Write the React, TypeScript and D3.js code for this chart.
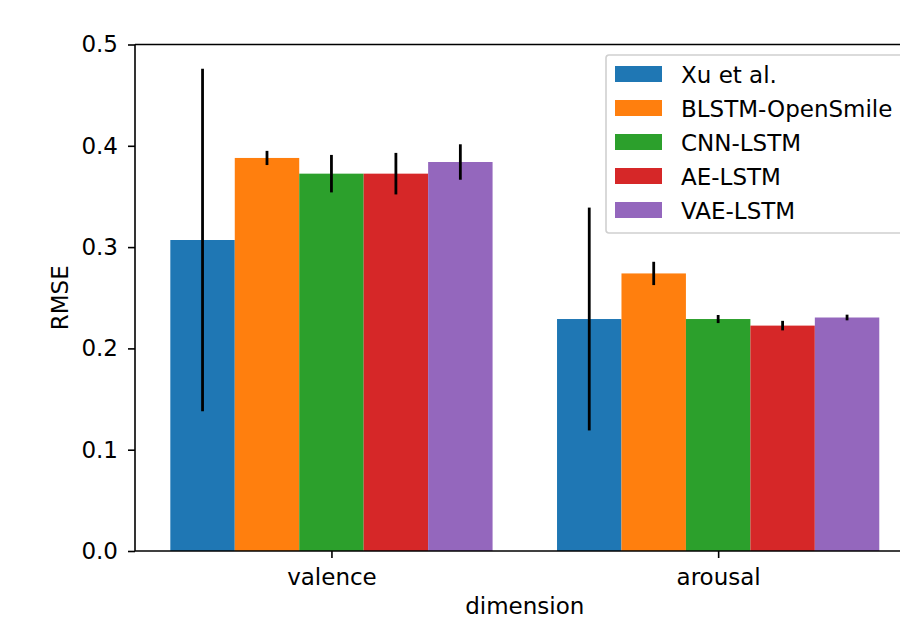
import React, { useEffect, useRef } from 'react';
import * as d3 from 'd3';

const dimensions = ['valence', 'arousal'];
const models = ['Xu et al.', 'BLSTM-OpenSmile', 'CNN-LSTM', 'AE-LSTM', 'VAE-LSTM'];
const colors = ['#1f77b4', '#ff7f0e', '#2ca02c', '#d62728', '#9467bd'];
// rmse per model, [valence, arousal]
const rmse = [
  [0.307, 0.229],
  [0.388, 0.274],
  [0.3725, 0.229],
  [0.3725, 0.2225],
  [0.384, 0.2305],
];
const errs = [
  [0.169, 0.11],
  [0.007, 0.0115],
  [0.0185, 0.004],
  [0.0205, 0.0047],
  [0.0175, 0.0028],
];
const yTicks = [0, 0.1, 0.2, 0.3, 0.4, 0.5];

const W = 900, H = 618;
const FONT = 'DejaVu Sans, sans-serif';
const FS = '23px';

export default function App() {
  const ref = useRef<SVGSVGElement>(null);

  useEffect(() => {
    document.body.style.margin = '0';
    const svg = d3.select(ref.current);
    svg.selectAll('*').remove();

    const left = 135, top = 44.5, bottom = 551, right = 914.6;
    const x = d3.scaleLinear().domain([-0.508, 1.508]).range([left, right]);
    const y = d3.scaleLinear().domain([0, 0.5]).range([bottom, top]);
    const bw = 1 / 6;

    const bars = svg.append('g');
    models.forEach((m, i) => {
      dimensions.forEach((d, j) => {
        const cx = j + (i - 2) * bw;
        bars.append('rect')
          .attr('x', x(cx - bw / 2)).attr('width', x(cx + bw / 2) - x(cx - bw / 2))
          .attr('y', y(rmse[i][j])).attr('height', y(0) - y(rmse[i][j]))
          .attr('fill', colors[i]);
      });
    });
    models.forEach((m, i) => {
      dimensions.forEach((d, j) => {
        const cx = j + (i - 2) * bw;
        bars.append('line')
          .attr('x1', x(cx)).attr('x2', x(cx))
          .attr('y1', y(rmse[i][j] - errs[i][j])).attr('y2', y(rmse[i][j] + errs[i][j]))
          .attr('stroke', '#000').attr('stroke-width', 2.8);
      });
    });

    // spines
    const sp = svg.append('g').attr('stroke', '#000').attr('stroke-width', 1.6).attr('fill', 'none');
    sp.append('line').attr('x1', left).attr('x2', left).attr('y1', top).attr('y2', bottom);
    sp.append('line').attr('x1', left).attr('x2', W).attr('y1', bottom).attr('y2', bottom);
    sp.append('line').attr('x1', left).attr('x2', W).attr('y1', top).attr('y2', top);

    const yAxis = svg.append('g').attr('transform', `translate(${left},0)`)
      .call(d3.axisLeft(y).tickValues(yTicks).tickFormat(d3.format('.1f')).tickSize(7).tickPadding(10));
    const xAxis = svg.append('g').attr('transform', `translate(0,${bottom})`)
      .call(d3.axisBottom(x).tickValues([0, 1]).tickFormat((d, k) => dimensions[k]).tickSize(7).tickPadding(11));
    [yAxis, xAxis].forEach(a => {
      a.select('.domain').remove();
      a.selectAll('line').attr('stroke', '#000').attr('stroke-width', 1.6);
      a.selectAll('text').attr('fill', '#000').style('font-family', FONT).style('font-size', FS);
    });

    svg.append('text').attr('x', x(0.5)).attr('y', 614).attr('text-anchor', 'middle')
      .style('font-family', FONT).style('font-size', FS).text('dimension');
    svg.append('text').attr('transform', `translate(68,${(top + bottom) / 2}) rotate(-90)`)
      .attr('text-anchor', 'middle')
      .style('font-family', FONT).style('font-size', FS).text('RMSE');

    // legend
    const lg = svg.append('g').attr('transform', 'translate(606,55)');
    lg.append('rect').attr('width', 310).attr('height', 178).attr('rx', 3)
      .attr('fill', 'rgba(255,255,255,0.8)').attr('stroke', '#d0d0d0').attr('stroke-width', 1.6);
    models.forEach((m, i) => {
      const row = lg.append('g').attr('transform', `translate(0,${19 + i * 34})`);
      row.append('rect').attr('x', 9).attr('y', -8).attr('width', 47).attr('height', 16).attr('fill', colors[i]);
      row.append('text').attr('x', 75).attr('y', 9).style('font-family', FONT).style('font-size', FS).text(m);
    });
  }, []);

  return <svg ref={ref} width={W} height={H} style={{ display: 'block', background: '#fff' }} />;
}
